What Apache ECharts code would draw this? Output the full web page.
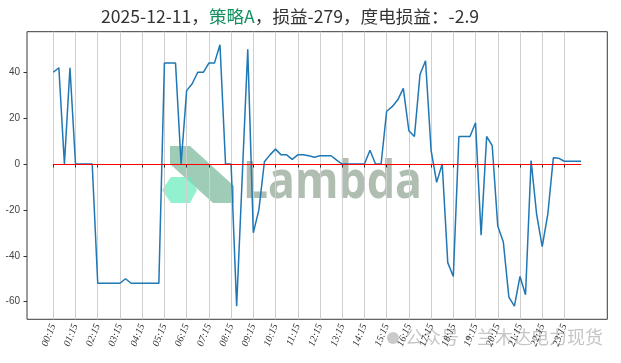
<!DOCTYPE html>
<html><head><meta charset="utf-8">
<script src="https://cdn.jsdelivr.net/npm/echarts@6/dist/echarts.min.js"></script>
<style>html,body{margin:0;padding:0;background:#fff}#c{width:621px;height:363px}</style>
</head><body><div id="c"></div>
<script>
const times = [
'00:15','00:30','00:45','01:00','01:15','01:30','01:45','02:00','02:15','02:30','02:45','03:00',
'03:15','03:30','03:45','04:00','04:15','04:30','04:45','05:00','05:15','05:30','05:45','06:00',
'06:15','06:30','06:45','07:00','07:15','07:30','07:45','08:00','08:15','08:30','08:45','09:00',
'09:15','09:30','09:45','10:00','10:15','10:30','10:45','11:00','11:15','11:30','11:45','12:00',
'12:15','12:30','12:45','13:00','13:15','13:30','13:45','14:00','14:15','14:30','14:45','15:00',
'15:15','15:30','15:45','16:00','16:15','16:30','16:45','17:00','17:15','17:30','17:45','18:00',
'18:15','18:30','18:45','19:00','19:15','19:30','19:45','20:00','20:15','20:30','20:45','21:00',
'21:15','21:30','21:45','22:00','22:15','22:30','22:45','23:00','23:15','23:30','23:45','24:00'];
const profit = [
40,42,0,42,0,0,0,0,-52,-52,-52,-52,
-52,-50,-52,-52,-52,-52,-52,-52,44,44,44,0,
32,35,40,40,44,44,52,0,0,-62,-6,50,
-30,-20,1,4,6.5,4,4,2,4,4,3.6,3,
3.6,3.6,3.6,1.7,0,0,0,0,0,6,0,0,
23,25,28,33,14.5,12,39,45,6,-8,0,-43,
-49,12,12,12,18,-31,12,8,-27,-34,-58,-62,
-49,-57,1.5,-22,-36,-22,2.7,2.5,1.2,1.2,1.2,1.2];
const yTickValues = [-60,-40,-20,0,20,40];
const zeroLevel = 0;
const titleDate = '2025-12-11';
const strategyName = '策略A';
const totalPnl = '-279';
const perKwhPnl = '-2.9';

const dMin = Math.min(...profit), dMax = Math.max(...profit);
const pad = (dMax - dMin) * 0.05;

const chart = echarts.init(document.getElementById('c'), null, {renderer: 'canvas'});
const G = {top: 31.7, bottom: 43.7};
const titleFont = '"Noto Sans CJK SC", sans-serif';
chart.setOption({
  animation: false,
  backgroundColor: '#fff',
  title: {
    left: 101, top: 6, padding: 0,
    text: '{a|' + titleDate + '，}{g|' + strategyName + '}{a|，损益' + totalPnl + '，度电损益：' + perKwhPnl + '}',
    textStyle: {
      fontWeight: 'normal',
      rich: {
        a: {fontFamily: titleFont, fontSize: 17.6, fontWeight: 'normal', color: '#333333', lineHeight: 20},
        g: {fontFamily: titleFont, fontSize: 17.6, fontWeight: 'normal', color: '#13915e', lineHeight: 20}
      }
    }
  },
  grid: [
    {left: 53.3, right: 39.9, top: G.top, bottom: G.bottom, show: false},
    {left: 27, right: 13.7, top: G.top, bottom: G.bottom, show: true, borderColor: '#3a3a3a', borderWidth: 1, backgroundColor: 'transparent'}
  ],
  xAxis: [
    {
      type: 'category', gridIndex: 0, data: times, boundaryGap: false,
      axisLine: {show: false},
      axisTick: {show: true, interval: 3, length: 3.5, lineStyle: {color: '#333', width: 1}},
      axisLabel: {interval: 3, rotate: 68, margin: 5, fontFamily: 'Liberation Serif', fontStyle: 'italic', fontSize: 10, color: '#333'},
      splitLine: {show: true, interval: 3, lineStyle: {color: '#cfcfcf', width: 1}}
    },
    {type: 'value', gridIndex: 1, show: false, min: 0, max: 1}
  ],
  yAxis: [
    {
      type: 'value', gridIndex: 0, position: 'left', offset: 26.3,
      min: dMin - pad, max: dMax + pad,
      axisLine: {show: false},
      axisTick: {show: true, length: 3.5, customValues: yTickValues, lineStyle: {color: '#333', width: 1}},
      axisLabel: {customValues: yTickValues, margin: 7, fontFamily: 'Liberation Sans', fontSize: 10, color: '#444'},
      splitLine: {show: false}
    },
    {type: 'value', gridIndex: 1, show: false, min: 0, max: 1}
  ],
  graphic: [
    {type: 'polygon', z: 0, shape: {points: [[170,146],[190,146],[234,186],[234,203],[213,203],[170,164]]}, style: {fill: 'rgba(95,170,135,0.6)'}},
    {type: 'polygon', z: 0, shape: {points: [[162,190],[171,177],[190,177],[197,190],[190,203],[171,203]]}, style: {fill: 'rgba(100,235,185,0.7)'}},
    {type: 'text', z: 0, x: 243, y: 157, scaleX: 0.86, style: {text: 'Lambda', font: 'bold 52px "Noto Sans"', fill: 'rgba(95,125,100,0.5)'}},
    {type: 'circle', z: 0, shape: {cx: 393, cy: 338, r: 6}, style: {fill: 'rgba(150,150,150,0.5)'}},
    {type: 'text', z: 0, left: 405, top: 328, style: {text: '公众号·兰木达电力现货', font: '18px "Noto Sans CJK SC"', fill: 'rgba(150,150,150,0.55)'}}
  ],
  series: [
    {
      type: 'line', xAxisIndex: 0, yAxisIndex: 0, data: profit,
      showSymbol: false, symbol: 'none',
      lineStyle: {color: '#1f77b4', width: 1.5}, z: 3
    },
    {
      type: 'line', xAxisIndex: 0, yAxisIndex: 0, data: [], z: 4,
      markLine: {
        silent: true, symbol: 'none', label: {show: false}, z: 10,
        lineStyle: {color: '#ff0000', width: 1.2, type: 'solid'},
        data: [{yAxis: zeroLevel}]
      }
    }
  ]
});
</script>
</body></html>
